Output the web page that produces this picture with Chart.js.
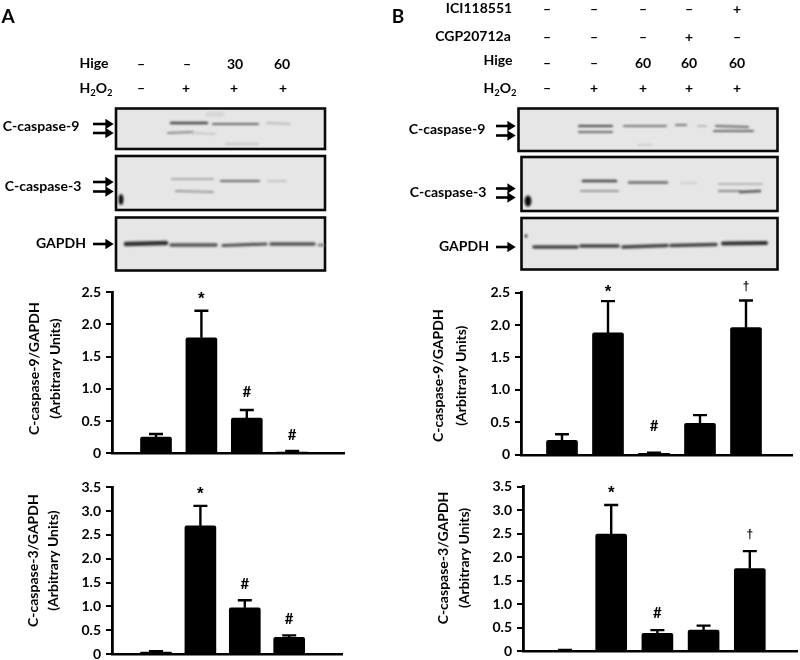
<!DOCTYPE html>
<html>
<head>
<meta charset="utf-8">
<script src="https://cdn.jsdelivr.net/npm/chart.js@4"></script>
<style>
html,body{margin:0;padding:0;background:#fff;}
#page{position:relative;width:800px;height:660px;overflow:hidden;filter:blur(0.4px);font-family:Lato,"Open Sans",sans-serif;font-weight:700;color:#000;}
#page canvas{position:absolute;}
#blots{position:absolute;left:0;top:0;}
.t{position:absolute;transform:translate(-50%,-50%);white-space:nowrap;font-size:14px;line-height:1;}
.t sub{font-size:9.5px;line-height:0;vertical-align:-3px;}
</style>
</head>
<body>
<div id="page">
<svg id="blots" width="800" height="660" xmlns="http://www.w3.org/2000/svg">
  <defs>
    <filter id="b1" x="-20%" y="-300%" width="140%" height="700%"><feGaussianBlur stdDeviation="1.2"/></filter>
    <marker id="ah" markerWidth="4" markerHeight="4" refX="1" refY="2" orient="auto"><path d="M0,0 L3.2,2 L0,4 Z" fill="#000"/></marker>
  </defs>
  <g fill="#e6e6e6" stroke="#0a0a0a" stroke-width="2.6">
    <rect x="116" y="108.5" width="209" height="40.5"/>
    <rect x="116" y="156" width="209" height="54"/>
    <rect x="116" y="217.5" width="209" height="53"/>
    <rect x="518.5" y="108.5" width="259" height="42.5"/>
    <rect x="521.5" y="157" width="256" height="54"/>
    <rect x="521.5" y="218" width="256" height="51.5"/>
  </g>
  <g fill="none" stroke-linecap="round" filter="url(#b1)">
    <path d="M171 123 L207 123" stroke="#444" stroke-width="2.4"/>
    <path d="M213 124 L258 124" stroke="#666" stroke-width="2.2"/>
    <path d="M267 123 L290 124" stroke="#bbb" stroke-width="2"/>
    <path d="M168 133 L193 132" stroke="#888" stroke-width="2"/>
    <path d="M193 133 L215 134" stroke="#c8c8c8" stroke-width="2"/>
    <path d="M226 144 L258 144" stroke="#ccc" stroke-width="2.5"/>
    <path d="M208 114 L222 114" stroke="#d6d6d6" stroke-width="5"/>
    <path d="M172 179 L213 179" stroke="#aaa" stroke-width="2"/>
    <path d="M221 181 L259 181" stroke="#666" stroke-width="2.2"/>
    <path d="M268 181 L286 181" stroke="#c4c4c4" stroke-width="2"/>
    <path d="M176 191 L213 192" stroke="#999" stroke-width="2"/>
    <path d="M126 244 L166 243" stroke="#333" stroke-width="4.6"/>
    <path d="M171 245 L216 245" stroke="#555" stroke-width="3.4"/>
    <path d="M223 245.5 L266 244" stroke="#555" stroke-width="3.2"/>
    <path d="M271 244 L314 244" stroke="#555" stroke-width="3.4"/>
    <path d="M319 245 L323 245" stroke="#888" stroke-width="3"/>
    <path d="M579 126 L612 126" stroke="#444" stroke-width="2.2"/>
    <path d="M624 126 L666 126" stroke="#777" stroke-width="2"/>
    <path d="M676 125 L686 125" stroke="#777" stroke-width="2"/>
    <path d="M698 126 L706 126" stroke="#bbb" stroke-width="2"/>
    <path d="M716 126 L748 127" stroke="#666" stroke-width="2"/>
    <path d="M579 132 L612 132" stroke="#666" stroke-width="2"/>
    <path d="M714 131 L753 131" stroke="#666" stroke-width="2"/>
    <path d="M638 145 L652 145" stroke="#d0d0d0" stroke-width="2"/>
    <path d="M583 181 L616 181" stroke="#444" stroke-width="2.6"/>
    <path d="M629 182.5 L667 182.5" stroke="#666" stroke-width="2.4"/>
    <path d="M681 183 L697 183" stroke="#d0d0d0" stroke-width="2"/>
    <path d="M719 184 L762 184" stroke="#b4b4b4" stroke-width="2"/>
    <path d="M581 191 L618 191" stroke="#999" stroke-width="2"/>
    <path d="M719 191 L740 191" stroke="#888" stroke-width="2"/>
    <path d="M740 192 L760 191" stroke="#555" stroke-width="2.4"/>
    <path d="M534 247 L577 247" stroke="#444" stroke-width="3.6"/>
    <path d="M581 246 L618 246" stroke="#444" stroke-width="3.6"/>
    <path d="M623 247 L667 245.5" stroke="#444" stroke-width="3.6"/>
    <path d="M671 245.5 L716 244.5" stroke="#444" stroke-width="3.6"/>
    <path d="M723 243.5 L766 243" stroke="#333" stroke-width="4"/>
  </g>
  <g filter="url(#b1)" fill="#0a0a0a">
    <ellipse cx="121" cy="199.5" rx="2.4" ry="5.5"/>
    <ellipse cx="528" cy="201" rx="3.4" ry="5.5"/>
    <ellipse cx="526" cy="236" rx="1.4" ry="2" fill="#444"/>
  </g>
  <g stroke="#000" stroke-width="2.6" marker-end="url(#ah)">
    <line x1="93" y1="124" x2="108" y2="124"/>
    <line x1="93" y1="133" x2="108" y2="133"/>
    <line x1="93" y1="182" x2="108" y2="182"/>
    <line x1="93" y1="191.5" x2="108" y2="191.5"/>
    <line x1="93" y1="244" x2="108" y2="244"/>
    <line x1="496" y1="126" x2="510" y2="126"/>
    <line x1="496" y1="135.5" x2="510" y2="135.5"/>
    <line x1="496" y1="188.5" x2="510" y2="188.5"/>
    <line x1="496" y1="197.5" x2="510" y2="197.5"/>
    <line x1="496" y1="247" x2="510" y2="247"/>
  </g>
</svg>
<canvas id="c1"></canvas>
<canvas id="c2"></canvas>
<canvas id="c3"></canvas>
<canvas id="c4"></canvas>
</div>
<script>
// ---- data ----
const groupsA = ['Control', 'H2O2', 'Hige 30 + H2O2', 'Hige 60 + H2O2'];
const groupsB = ['Control', 'H2O2', 'Hige 60 + H2O2', 'CGP20712a + Hige 60 + H2O2', 'ICI118551 + Hige 60 + H2O2'];

const casp9A = [0.25, 1.79, 0.545, 0.02];
const casp9AErr = [0.30, 2.21, 0.67, 0.035];
const casp9AMarks = ['', '*', '#', '#'];
const casp9AMarkLevels = [0, 2.41, 0.95, 0.28];

const casp3A = [0.04, 2.69, 0.97, 0.35];
const casp3AErr = [0.06, 3.11, 1.13, 0.39];
const casp3AMarks = ['', '*', '#', '#'];
const casp3AMarkLevels = [0, 3.40, 1.47, 0.735];

const casp9B = [0.22, 1.88, 0.02, 0.485, 1.96];
const casp9BErr = [0.315, 2.37, 0.03, 0.61, 2.38];
const casp9BMarks = ['', '*', '#', '', '†'];
const casp9BMarkLevels = [0, 2.54, 0.443, 0, 2.59];

const casp3B = [0.02, 2.49, 0.38, 0.45, 1.76];
const casp3BErr = [0.03, 3.11, 0.45, 0.545, 2.13];
const casp3BMarks = ['', '*', '#', '', '†'];
const casp3BMarkLevels = [0, 3.41, 0.815, 0, 2.48];

const ticks25 = ['0', '0.5', '1.0', '1.5', '2.0', '2.5'];
const ticks35 = ['0', '0.5', '1.0', '1.5', '2.0', '2.5', '3.0', '3.5'];
const title9 = ['C-caspase-9/GAPDH', '(Arbitrary Units)'];
const title3 = ['C-caspase-3/GAPDH', '(Arbitrary Units)'];

const rowHigeA = ['–', '–', '30', '60'];
const rowPeroxideA = ['–', '+', '+', '+'];
const rowIciB = ['–', '–', '–', '–', '+'];
const rowCgpB = ['–', '–', '–', '+', '–'];
const rowHigeB = ['–', '–', '60', '60', '60'];
const rowPeroxideB = ['–', '+', '+', '+', '+'];

// ---- page text ----
const page = document.getElementById('page');
function put(html, x, y, size) {
  const s = document.createElement('span');
  s.className = 't';
  s.innerHTML = html;
  s.style.left = x + 'px';
  s.style.top = y + 'px';
  if (size) s.style.fontSize = size + 'px';
  page.appendChild(s);
}
function row(values, xs, y) { values.forEach((v, i) => put(v, xs[i], y)); }
const H2O2 = 'H<sub>2</sub>O<sub>2</sub>';
put('A', 8, 15, 19);
put('B', 398, 15, 19);
put('Hige', 94, 63);
put(H2O2, 96, 88);
row(rowHigeA, [141, 187, 235, 282], 64);
row(rowPeroxideA, [141, 186, 234, 283], 88);
put('C-caspase-9', 41, 126);
put('C-caspase-3', 43, 186);
put('GAPDH', 61, 243);
put('ICI118551', 479, 8);
put('CGP20712a', 473, 36);
put('Hige', 498, 60);
put(H2O2, 500, 88);
const colsB = [547, 594, 643, 689, 737];
row(rowIciB, colsB, 9);
row(rowCgpB, colsB, 37);
row(rowHigeB, colsB, 63);
row(rowPeroxideB, colsB, 88);
put('C-caspase-9', 447, 129);
put('C-caspase-3', 448, 192);
put('GAPDH', 464, 246);

// ---- error bars and significance marks, positioned through the scales ----
const extras = {
  id: 'extras',
  afterDatasetsDraw(chart, args, o) {
    const { ctx, scales: { x, y } } = chart;
    ctx.save();
    ctx.strokeStyle = '#000';
    ctx.lineWidth = 2.4;
    o.values.forEach((v, i) => {
      const px = x.getPixelForValue(i + 1);
      const top = y.getPixelForValue(o.errors[i]);
      const base = y.getPixelForValue(v);
      ctx.beginPath();
      ctx.moveTo(px, base);
      ctx.lineTo(px, top);
      ctx.moveTo(px - 7, top);
      ctx.lineTo(px + 7, top);
      ctx.stroke();
    });
    ctx.fillStyle = '#000';
    ctx.textAlign = 'center';
    ctx.textBaseline = 'middle';
    o.marks.forEach((m, i) => {
      if (!m) return;
      let dy = 0;
      if (m === '*') { ctx.font = '700 17px "Liberation Sans", sans-serif'; dy = 2; }
      else if (m === '†') { ctx.font = '700 12px "Liberation Sans", sans-serif'; }
      else { ctx.font = '700 15px Lato, sans-serif'; }
      ctx.fillText(m, x.getPixelForValue(i + 1), y.getPixelForValue(o.levels[i]) + dy);
    });
    ctx.restore();
  }
};

function panel(id, g) {
  const cv = document.getElementById(id);
  cv.width = g.w; cv.height = g.h;
  cv.style.left = g.x + 'px';
  cv.style.top = g.y + 'px';
  const left = g.axisLeft - g.x, right = g.axisRight - g.x;
  const min = 1 - (g.first - g.axisLeft) / g.step;
  const max = 1 + (g.axisRight - g.first) / g.step;
  new Chart(cv, {
    type: 'bar',
    data: {
      labels: g.groups,
      datasets: [{
        data: g.values.map((v, i) => ({ x: i + 1, y: v })),
        backgroundColor: '#000',
        borderWidth: 0,
        borderRadius: 2,
        borderSkipped: 'bottom',
        barThickness: 31
      }]
    },
    plugins: [extras],
    options: {
      responsive: false,
      animation: false,
      layout: { padding: { left: 0, right: g.w - right, top: g.top - g.y, bottom: g.y + g.h - g.zero } },
      plugins: {
        legend: { display: false },
        tooltip: { enabled: false },
        extras: { values: g.values, errors: g.errors, marks: g.marks, levels: g.levels }
      },
      scales: {
        x: {
          type: 'linear', min, max, offset: false,
          grid: { display: false, drawTicks: false },
          ticks: { display: false },
          border: { display: true, color: '#000', width: 2.4 },
          afterFit(s) { s.height = 0; }
        },
        y: {
          min: 0, max: g.ticks.length * 0.5 - 0.5,
          grid: { drawOnChartArea: false, color: '#000', tickColor: '#000', tickLength: 6, tickWidth: 2, lineWidth: 2 },
          border: { display: true, color: '#000', width: 2.8 },
          ticks: {
            stepSize: 0.5, autoSkip: false, padding: 5, color: '#000',
            font: { family: 'Lato', weight: '700', size: 14 },
            callback: (v, i) => g.ticks[i]
          },
          title: {
            display: true, text: g.title, color: '#000',
            font: { family: 'Lato', weight: '700', size: 14, lineHeight: g.lh / 14 },
            padding: { top: g.titleX - g.lh / 2 - g.x, bottom: 0 }
          },
          afterFit(s) {
            s.width = left;
            const draw = s.drawTitle;
            s.drawTitle = function () {
              const c = s.ctx; c.save(); c.translate(0, g.titleDy);
              draw.call(s); c.restore();
            };
          }
        }
      }
    }
  });
}

panel('c1', { x: 0, y: 270, w: 395, h: 210, axisLeft: 112, axisRight: 344, top: 292, zero: 453.3, first: 156, step: 45.4,
  groups: groupsA, values: casp9A, errors: casp9AErr, marks: casp9AMarks, levels: casp9AMarkLevels,
  ticks: ticks25, title: title9, titleX: 34, lh: 21, titleDy: -4 });
panel('c2', { x: 0, y: 465, w: 395, h: 215, axisLeft: 112, axisRight: 342, top: 487.3, zero: 654, first: 156, step: 44.4,
  groups: groupsA, values: casp3A, errors: casp3AErr, marks: casp3AMarks, levels: casp3AMarkLevels,
  ticks: ticks35, title: title3, titleX: 33, lh: 20, titleDy: -10 });
panel('c3', { x: 400, y: 270, w: 400, h: 210, axisLeft: 521, axisRight: 792, top: 292.7, zero: 454.7, first: 562, step: 46,
  groups: groupsB, values: casp9B, errors: casp9BErr, marks: casp9BMarks, levels: casp9BMarkLevels,
  ticks: ticks25, title: title9, titleX: 438, lh: 23, titleDy: 2 });
panel('c4', { x: 400, y: 465, w: 400, h: 215, axisLeft: 523, axisRight: 797, top: 486.7, zero: 651.3, first: 565, step: 46.2,
  groups: groupsB, values: casp3B, errors: casp3BErr, marks: casp3BMarks, levels: casp3BMarkLevels,
  ticks: ticks35, title: title3, titleX: 443, lh: 21, titleDy: -11 });
</script>
</body>
</html>
